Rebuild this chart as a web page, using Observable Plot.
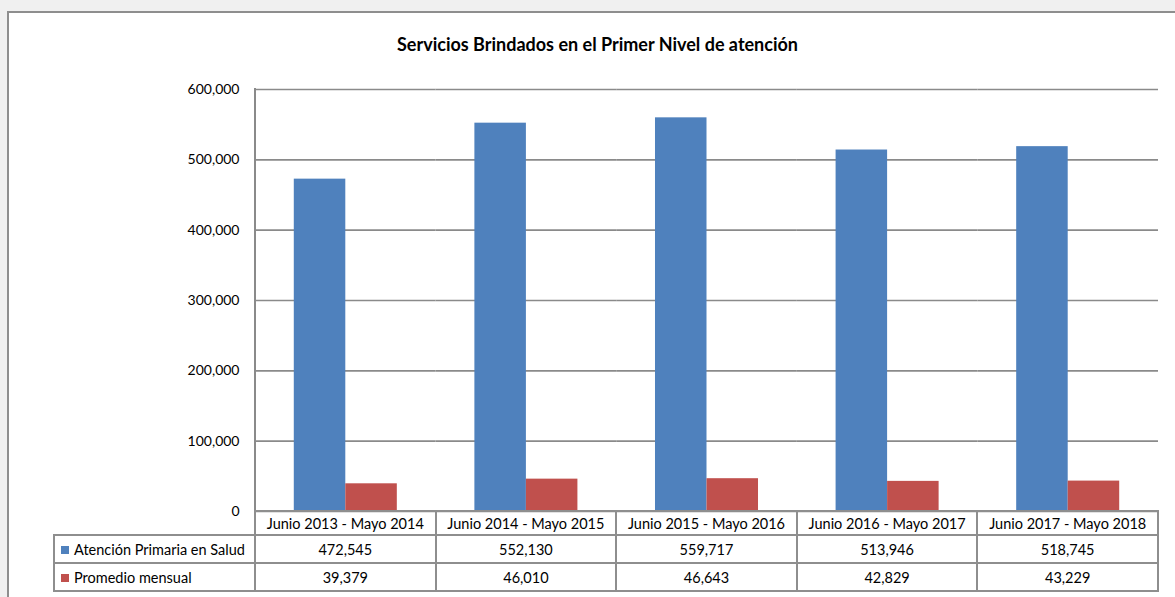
<!DOCTYPE html>
<html>
<head>
<meta charset="utf-8">
<script src="https://cdn.jsdelivr.net/npm/d3@7"></script>
<script src="https://cdn.jsdelivr.net/npm/@observablehq/plot@0.6"></script>
<style>
  html, body { margin: 0; padding: 0; width: 1175px; height: 597px; overflow: hidden; background: #f0f0f0; font-family: Lato, "Open Sans", sans-serif; }
  #frame { position: absolute; left: 7px; top: 11px; width: 1200px; height: 640px; background: #fff; border: 2px solid #8e8e8e; box-sizing: border-box; }
  #title { position: absolute; left: 0; width: 1195px; top: 33px; text-align: center; font-weight: bold; font-size: 18px; line-height: 22px; color: #000; }
  #chart { position: absolute; left: 0; top: 0; }
  #axisline { position: absolute; left: 254px; top: 88px; width: 2px; height: 424px; background: #8a8a8a; }
  #tbl { position: absolute; left: 53px; top: 510px; border-collapse: collapse; font-size: 14.5px; color: #000; }
  #tbl td { border: 2px solid #8e8e8e; text-align: center; padding: 0; white-space: nowrap; }
  #tbl td.lab { text-align: left; padding-left: 6px; }
  #tbl td.blank { border: none; border-right: 2px solid #8e8e8e; }
  #tbl tr.h td { height: 22px; }
  #tbl tr.r1 td { height: 26px; }
  #tbl tr.r2 td { height: 26px; }
  .sw { display: inline-block; width: 8px; height: 8px; margin-right: 5px; vertical-align: 1px; }
</style>
</head>
<body>
<div id="frame"></div>
<div id="title"></div>
<div id="chart"></div>
<div id="axisline"></div>
<table id="tbl"></table>
<script>
const titleText = "Servicios Brindados en el Primer Nivel de atención";
const categories = ["Junio 2013 - Mayo 2014", "Junio 2014 - Mayo 2015", "Junio 2015 - Mayo 2016", "Junio 2016 - Mayo 2017", "Junio 2017 - Mayo 2018"];
const series = ["Atención Primaria en Salud", "Promedio mensual"];
const atencion = [472545, 552130, 559717, 513946, 518745];
const promedio = [39379, 46010, 46643, 42829, 43229];
const colors = ["#4f81bd", "#c0504d"];
const yTicks = [0, 100000, 200000, 300000, 400000, 500000, 600000];

const values = [atencion, promedio];
const rows = categories.flatMap((c, i) => series.map((s, j) => ({cat: c, serie: s, value: values[j][i]})));
const fmt = d3.format(",");

document.getElementById("title").textContent = titleText;

const chart = Plot.plot({
  width: 1175,
  height: 520,
  marginLeft: 255,
  marginRight: 17,
  marginTop: 89,
  marginBottom: 9,
  style: {fontFamily: "Lato, 'Open Sans', sans-serif", color: "#000", background: "transparent"},
  fx: {domain: categories, padding: 0, axis: null, round: false},
  x: {domain: series, paddingInner: 0, paddingOuter: 0.753, axis: null, round: false},
  y: {domain: [0, 600000]},
  color: {domain: series, range: colors},
  marks: [
    Plot.gridY(yTicks, {stroke: "#8a8a8a", strokeOpacity: 1, strokeWidth: 1.6}),
    Plot.axisY(yTicks, {tickSize: 0, tickPadding: 16, fontSize: 14, tickFormat: fmt, fill: "#000", label: null}),
    Plot.barY(rows, {fx: "cat", x: "serie", y: "value", fill: "serie"})
  ]
});
document.getElementById("chart").appendChild(chart);

// data table
const tbl = document.getElementById("tbl");
const colW = (1158 - 255) / categories.length;
let html = '<tr class="h"><td class="blank" style="width:200px"></td>' +
  categories.map(c => `<td style="width:${colW - 2}px">${c}</td>`).join("") + "</tr>";
series.forEach((s, j) => {
  html += `<tr class="r${j + 1}"><td class="lab"><span class="sw" style="background:${colors[j]}"></span>${s}</td>` +
    values[j].map(v => `<td>${fmt(v)}</td>`).join("") + "</tr>";
});
tbl.innerHTML = html;
</script>
</body>
</html>
